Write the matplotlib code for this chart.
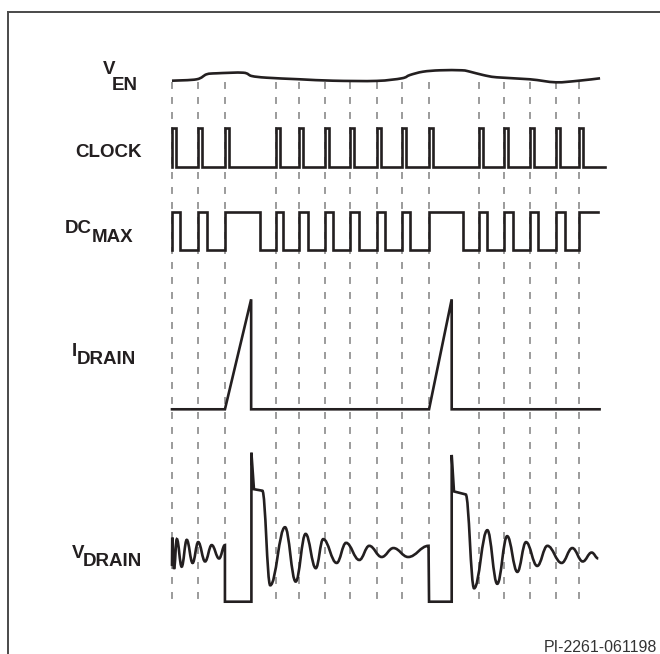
import numpy as np
import matplotlib
matplotlib.use("Agg")
import matplotlib.pyplot as plt
from matplotlib.path import Path
from matplotlib.patches import PathPatch
from matplotlib.lines import Line2D

plt.rcParams['font.family'] = ['Liberation Sans', 'DejaVu Sans']
plt.rcParams['lines.scale_dashes'] = False

# time axis in clock periods, levels normalised per trace
clock_edges = [0, 1.02, 2.08, 4.09, 4.99, 6.01, 7.0, 8.06, 9.04, 10.10, 12.06, 13.05, 14.07, 15.09, 15.99]
clock_width = 0.17
clock_end = 17.0

dc_rise = clock_edges
dc_fall = [0.31, 1.39, 3.46, 4.38, 5.36, 6.34, 7.33, 8.37, 9.37, 11.45, 12.39, 13.41, 14.40, 15.45, None]
dc_end = 16.73

ven_t = [0, 0.97, 1.36, 1.76, 2.80, 3.13, 3.72, 5.03, 6.33, 8.04, 9.03, 9.35, 9.86,
         10.53, 11.39, 11.71, 12.22, 12.76, 14.07, 15.08, 15.99, 16.82]
ven_v = [0.13, 0.27, 0.77, 0.87, 0.93, 0.60, 0.43, 0.27, 0.13, 0.11, 0.37, 0.70, 1.03,
         1.17, 1.17, 1.03, 0.70, 0.47, 0.27, -0.03, 0.13, 0.37]

idrain_t = [0, 2.08, 3.11, 3.11, 10.10, 10.99, 10.99, 16.8]
idrain_v = [0, 0, 1.0, 0, 0, 1.0, 0, 0]

vdrain_t = [0.0, 0.01, 0.08, 0.19, 0.38, 0.58, 0.81, 1.03, 1.30, 1.56, 1.85, 2.08, 2.08,
            3.12, 3.12, 3.22, 3.55, 3.86, 4.44, 4.86, 5.25, 5.65, 5.94, 6.47, 6.84, 7.36,
            7.75, 8.24, 8.70, 9.28, 10.08, 10.10,
            10.99, 10.99, 11.08, 11.54, 11.87, 12.39, 12.78, 13.17, 13.57, 13.91, 14.35,
            14.75, 15.31, 15.73, 16.14, 16.49, 16.75]
vdrain_v = [0.24, 0.43, 0.22, 0.42, 0.235, 0.415, 0.26, 0.40, 0.27, 0.38, 0.29, 0.38, 0.0,
            0.0, 1.0, 0.755, 0.745, 0.11, 0.50, 0.135, 0.455, 0.225, 0.42, 0.26, 0.395, 0.28,
            0.375, 0.30, 0.36, 0.30, 0.375, 0.0,
            0.0, 0.985, 0.74, 0.72, 0.09, 0.48, 0.12, 0.44, 0.20, 0.40, 0.24,
            0.375, 0.26, 0.36, 0.27, 0.33, 0.29]
# L = straight, C = smooth swing between extremes
vdrain_kind = list("ML" + "C" * 10 + "L" + "LLLL" + "C" * 14 + "L" + "LLLL" + "C" * 13)

W, H = 660, 654
INK = '#231f20'
LW = 1.9

fig = plt.figure(figsize=(W / 100, H / 100), dpi=100)
ax = fig.add_axes([0, 0, 1, 1])
px_per_t = 25.45
x0 = 172
ax.set_xlim(-x0 / px_per_t, (W - x0) / px_per_t)
ax.set_ylim(H, 0)
ax.axis('off')


def row(base, amp):
    return lambda v: base - amp * np.asarray(v, dtype=float)


y_ven = row(82, 10)
y_clk = row(167, 39)
y_dc = row(250, 38.5)
y_id = row(409.3, 110)
y_vd = row(601.7, 149)

# dashed guides at each clock edge
for e in clock_edges:
    ax.add_line(Line2D([e, e], [82, 602], color='#8a8a8a', lw=1.2,
                       linestyle=(0, (5.0, 5.8)), zorder=1))

# clock
cx, cy = [0], [0]
for e in clock_edges:
    cx += [e, e, e + clock_width, e + clock_width]
    cy += [0, 1, 1, 0]
cx.append(clock_end)
cy.append(0)
ax.plot(cx, y_clk(cy), color=INK, lw=LW, solid_joinstyle='miter', zorder=3)

# DC max
dx, dy = [0], [0]
for r, f in zip(dc_rise, dc_fall):
    if f is None:
        dx += [r, r, dc_end]
        dy += [0, 1, 1]
    else:
        dx += [r, r, f, f]
        dy += [0, 1, 1, 0]
ax.plot(dx, y_dc(dy), color=INK, lw=LW, solid_joinstyle='miter', zorder=3)

# I drain
ax.plot(idrain_t, y_id(idrain_v), color=INK, lw=LW, solid_joinstyle='miter', zorder=3)

# V enable, smooth curve through read points
pts = np.column_stack([ven_t, y_ven(ven_v)])
verts, codes = [pts[0]], [Path.MOVETO]
n = len(pts)
for i in range(n - 1):
    p0, p1 = pts[max(i - 1, 0)], pts[i]
    p2, p3 = pts[i + 1], pts[min(i + 2, n - 1)]
    verts += [p1 + (p2 - p0) / 6, p2 - (p3 - p1) / 6, p2]
    codes += [Path.CURVE4] * 3
ax.add_patch(PathPatch(Path(verts, codes), fill=False, ec=INK, lw=LW, zorder=3))

# V drain
yy = y_vd(vdrain_v)
verts, codes = [(vdrain_t[0], yy[0])], [Path.MOVETO]
for k in range(1, len(vdrain_t)):
    xa, ya = verts[-1]
    xb, yb = vdrain_t[k], yy[k]
    if vdrain_kind[k] == 'C':
        d = xb - xa
        verts += [(xa + 0.4 * d, ya), (xb - 0.4 * d, yb), (xb, yb)]
        codes += [Path.CURVE4] * 3
    else:
        verts.append((xb, yb))
        codes.append(Path.LINETO)
ax.add_patch(PathPatch(Path(verts, codes), fill=False, ec=INK, lw=LW,
                       joinstyle='miter', zorder=3))

# frame
fig.add_artist(Line2D([8 / W, 8 / W], [1 - 12 / H, -0.01], color='#4a4a4a', lw=1.4))
fig.add_artist(Line2D([8 / W, 1.01], [1 - 12 / H, 1 - 12 / H], color='#4a4a4a', lw=1.4))

# labels
font = dict(fontsize=13.5, fontweight='bold', color=INK, va='baseline')
renderer = fig.canvas.get_renderer()


def label(main, sub, x_right, y_base, rise, kern=0):
    t = fig.text(x_right / W, 1 - y_base / H, sub, ha='right', **font)
    if main:
        bb = t.get_window_extent(renderer)
        fig.text((bb.x0 + kern) / W, 1 - (y_base - rise) / H, main, ha='right', **font)


label('V', 'EN', 138, 90, 16, kern=3)
label(None, 'CLOCK', 142, 156.7, 0)
label('DC', 'MAX', 133, 241.7, 8.5)
label('I', 'DRAIN', 136, 364, 8.5)
label('V', 'DRAIN', 142, 566, 8.5, kern=2)

fig.text(657 / W, 1 - 652.5 / H, 'PI-2261-061198', ha='right', va='baseline',
         fontsize=11.5, color='#333333')

fig.savefig('out.png', dpi=100)
